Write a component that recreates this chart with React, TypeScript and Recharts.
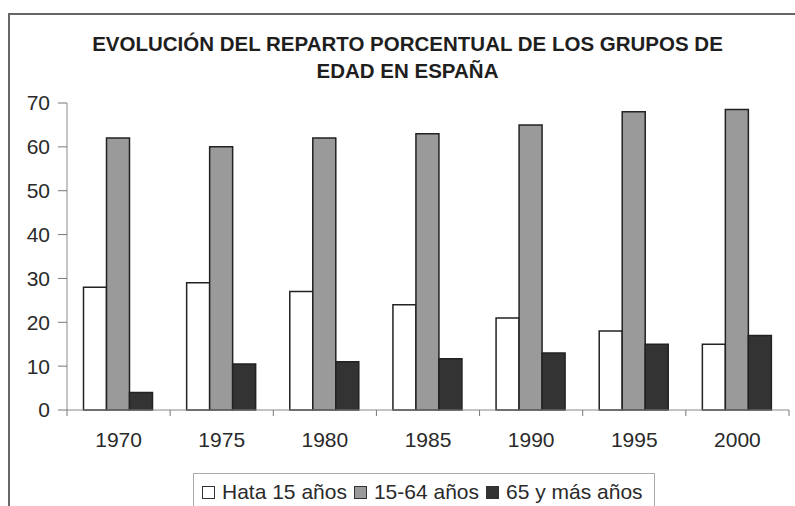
import { BarChart, Bar, XAxis, YAxis, Legend } from 'recharts'

const years = ['1970', '1975', '1980', '1985', '1990', '1995', '2000']
const under15 = [28, 29, 27, 24, 21, 18, 15]
const working = [62, 60, 62, 63, 65, 68, 68.5]
const over65 = [4, 10.5, 11, 11.7, 13, 15, 17]
const yTicks = [0, 10, 20, 30, 40, 50, 60, 70]

const series = [
  { key: 'a', name: 'Hata 15 años', color: '#ffffff' },
  { key: 'b', name: '15-64 años', color: '#9a9a9a' },
  { key: 'c', name: '65 y más años', color: '#333333' },
]

const data = years.map((y, i) => ({ year: y, a: under15[i], b: working[i], c: over65[i] }))

const FONT = '"Liberation Sans", Arial, sans-serif'

const YearTick = (props: any) => {
  const { x, y, payload, index, visibleTicksCount } = props
  const half = payload.offset ?? 51.5
  const last = index === (visibleTicksCount ?? years.length) - 1
  return (
    <g>
      <line x1={x - half} x2={x - half} y1={y - 8} y2={y - 2} stroke="#777" />
      {last && <line x1={x + half} x2={x + half} y1={y - 8} y2={y - 2} stroke="#777" />}
      <text x={x} y={y + 29} textAnchor="middle" fontSize={21} fill="#2a2a2a" fontFamily={FONT}>
        {payload.value}
      </text>
    </g>
  )
}

const LegendBox = () => (
  <div
    style={{
      border: '1px solid #aaa',
      width: 462,
      height: 40,
      boxSizing: 'border-box',
      paddingLeft: 8,
      paddingTop: 6,
      fontFamily: FONT,
      fontSize: 21,
      color: '#2a2a2a',
      whiteSpace: 'nowrap',
      background: '#fff',
    }}
  >
    {series.map((s) => (
      <span key={s.key} style={{ marginRight: 7 }}>
        <span
          style={{
            display: 'inline-block',
            width: 11,
            height: 11,
            border: '1px solid #333',
            background: s.color,
            marginRight: 7,
          }}
        />
        {s.name}
      </span>
    ))}
  </div>
)

export default function App() {
  return (
    <div
      style={{
        position: 'absolute',
        left: 0,
        top: 0,
        width: 795,
        height: 506,
        overflow: 'hidden',
        background: '#fff',
        fontFamily: FONT,
      }}
    >
      <div
        style={{
          position: 'absolute',
          left: 8,
          top: 13,
          width: 900,
          height: 600,
          borderTop: '2px solid #666',
          borderLeft: '2px solid #666',
        }}
      />
      <div
        style={{
          position: 'absolute',
          left: 10,
          top: 30,
          width: 795,
          textAlign: 'center',
          fontSize: 20.5,
          lineHeight: '27px',
          fontWeight: 'bold',
          color: '#1e1e1e',
        }}
      >
        EVOLUCIÓN DEL REPARTO PORCENTUAL DE LOS GRUPOS DE
        <br />
        EDAD EN ESPAÑA
      </div>
      <div style={{ position: 'absolute', left: 0, top: 0 }}>
        <BarChart
          width={795}
          height={506}
          data={data}
          margin={{ top: 103, right: 6, bottom: 66, left: 0 }}
          barGap={0}
          barCategoryGap="16%"
        >
          <XAxis
            dataKey="year"
            height={30}
            axisLine={{ stroke: '#888' }}
            tickLine={false}
            tick={<YearTick />}
            tickSize={0}
            tickMargin={8}
            interval={0}
          />
          <XAxis xAxisId="top" dataKey="year" orientation="top" height={0} tick={false} tickLine={false} axisLine={{ stroke: '#999' }} />
          <YAxis
            width={67}
            domain={[0, 70]}
            ticks={yTicks}
            interval={0}
            tickSize={9}
            tickMargin={8}
            axisLine={{ stroke: '#888' }}
            tickLine={{ stroke: '#777' }}
            tick={{ fontSize: 21, fill: '#2a2a2a', fontFamily: FONT }}
          />
          <YAxis yAxisId="right" orientation="right" width={0} tick={false} tickLine={false} axisLine={{ stroke: '#999' }} />
          <Legend
            layout="horizontal"
            verticalAlign="middle"
            align="center"
            content={<LegendBox />}
            wrapperStyle={{ position: 'absolute', top: 473, left: 193, width: 462 }}
          />
          {series.map((s) => (
            <Bar
              key={s.key}
              dataKey={s.key}
              name={s.name}
              fill={s.color}
              stroke="#222"
              strokeWidth={1.5}
              isAnimationActive={false}
            />
          ))}
        </BarChart>
      </div>
    </div>
  )
}
